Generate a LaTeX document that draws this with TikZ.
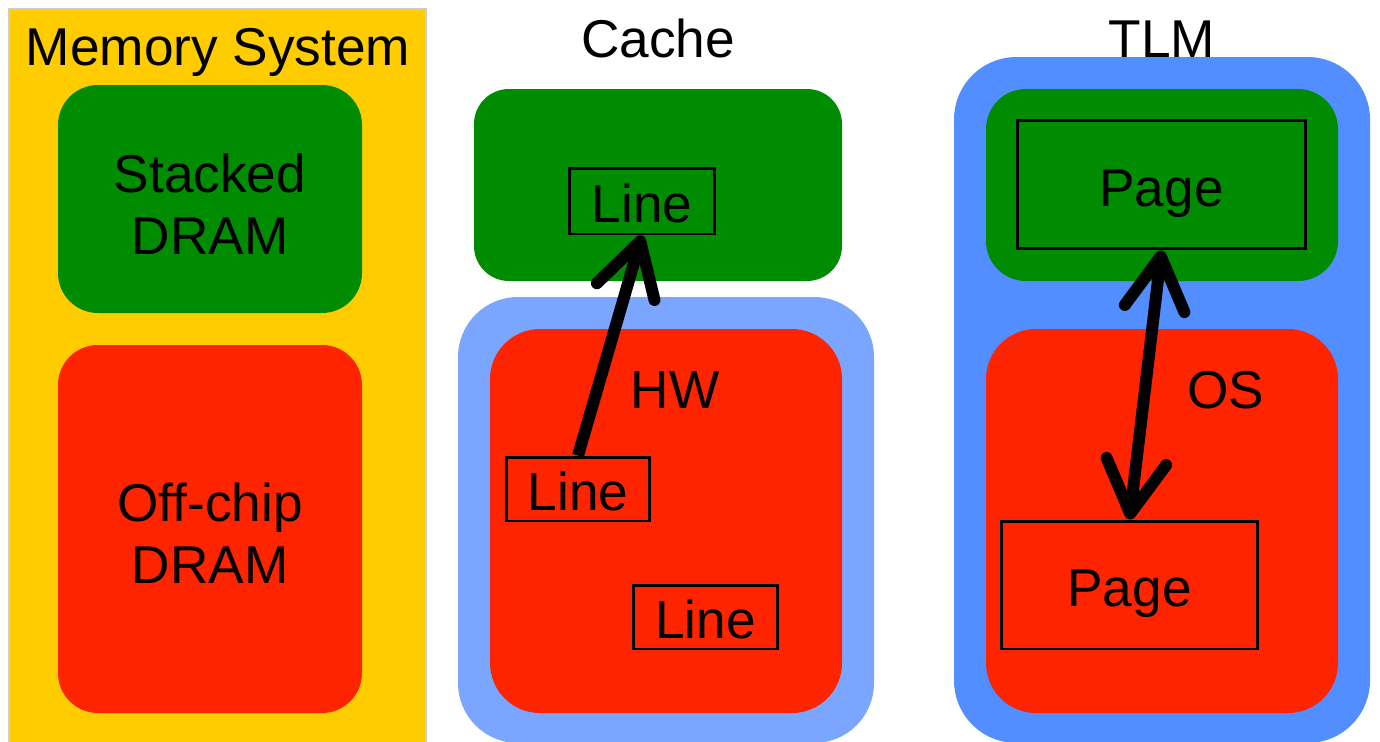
\documentclass[tikz,border=0pt]{standalone}
\usepackage{fontspec}
\setmainfont{Liberation Sans}
\usetikzlibrary{arrows.meta}
\definecolor{yellow1}{RGB}{255, 204, 0}
\definecolor{green1}{RGB}{0, 140, 0}
\definecolor{red1}{RGB}{255, 36, 0}
\definecolor{blue1}{RGB}{123, 166, 255}
\definecolor{blue2}{RGB}{82, 142, 255}

\begin{document}
\begin{tikzpicture}[x=0.02cm, y=-0.02cm, font=\fontsize{30.3}{35}\selectfont,
  box/.style={draw=black, line width=1.7pt, inner sep=0pt},
  >={Straight Barb[length=1.05cm, width=1.2cm, round]}]
  \useasboundingbox (0,0) rectangle (1380,741);

  % memory system
  \fill[yellow1, draw=black!20, line width=1.2pt] (9,9) rectangle (426,780);
  \node[anchor=base] (ms) at (218,65) {Memory System};
  \fill[green1, rounded corners=0.8cm] (58,85) rectangle (362,313);
  \node[align=center] (sd) at (210,204) {Stacked\\DRAM};
  \fill[red1, rounded corners=0.8cm] (58,345) rectangle (362,713);
  \node[align=center] (od) at (210,533) {Off-chip\\DRAM};

  % cache
  \node[anchor=base] (ca) at (658,57) {Cache};
  \fill[green1, rounded corners=0.7cm] (474,89) rectangle (842,281);
  \fill[blue1, rounded corners=1.2cm] (458,297) rectangle (874,743);
  \fill[red1, rounded corners=1cm] (490,329) rectangle (842,713);
  \node (hw) at (675,390) {HW};
  \node[box, text height=0.86cm, minimum width=2.92cm, minimum height=1.32cm] (l1) at (642,201) {Line};
  \node[box, text height=0.86cm, minimum width=2.88cm, minimum height=1.28cm] (l2) at (578,489) {Line};
  \node[box, text height=0.86cm, minimum width=2.9cm, minimum height=1.28cm] (l3) at (705.5,617) {Line};

  % tlm
  \node[anchor=base] (tl) at (1162,57) {TLM};
  \fill[blue2, rounded corners=1.25cm] (954,57) rectangle (1370,743);
  \fill[green1, rounded corners=0.8cm] (986,89) rectangle (1338,281);
  \fill[red1, rounded corners=1cm] (986,329) rectangle (1338,713);
  \node (os) at (1226,390) {OS};
  \node[box, text height=1.1cm, minimum width=5.78cm, minimum height=2.58cm] (p1) at (1161.5,184.5) {Page};
  \node[box, text height=1.1cm, minimum width=5.14cm, minimum height=2.56cm] (p2) at (1129.5,585) {Page};

  \draw[line width=6.8pt, ->] (l2.north) -- (l1.south);
  \draw[line width=6.8pt, <->] (p1.south) -- (p2.north);
\end{tikzpicture}
\end{document}
